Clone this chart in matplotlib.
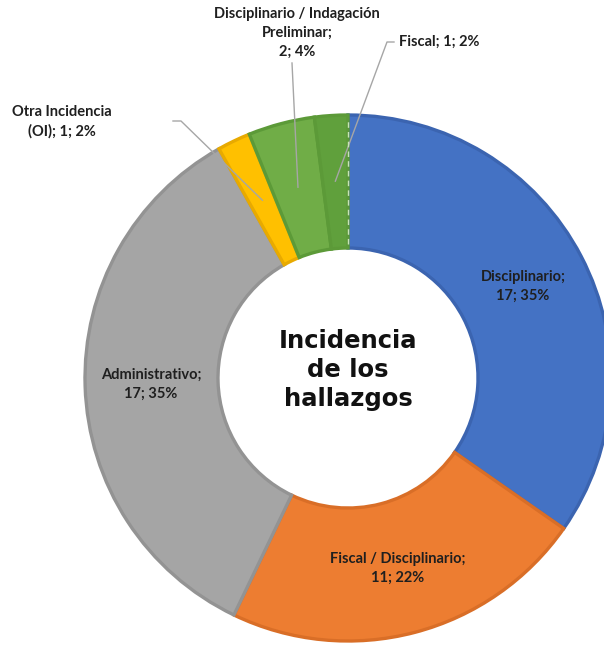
import numpy as np
import matplotlib
matplotlib.use("Agg")
import matplotlib.pyplot as plt

# --- Datos del gráfico ---
categorias = ["Disciplinario", "Fiscal / Disciplinario", "Administrativo",
              "Otra Incidencia\n(OI)", "Disciplinario / Indagación\nPreliminar", "Fiscal"]
cantidades = [17, 11, 17, 1, 2, 1]
porcentajes = [35, 22, 35, 2, 4, 2]

colores = ["#4472C4", "#ED7D31", "#A5A5A5", "#FFC000", "#70AD47", "#60A03C"]
bordes = ["#3B64B0", "#D96E27", "#939393", "#E8AA00", "#5C9A38", "#5C9A38"]

TITULO = "Incidencia\nde los\nhallazgos"

# --- Layout (px, eje y hacia arriba) ---
W, H = 604, 646
CENTRO = (348, 268)
RADIO = 263
ANCHO = 133
FUENTE = ["Lato", "DejaVu Sans"]

fig = plt.figure(figsize=(W / 100, H / 100), dpi=100)
ax = fig.add_axes([0, 0, 1, 1])

wedges, _ = ax.pie(cantidades, colors=colores, startangle=90, counterclock=False,
                   center=CENTRO, radius=RADIO, frame=True,
                   wedgeprops=dict(width=ANCHO, linewidth=2.4))
for w, b in zip(wedges, bordes):
    w.set_edgecolor(b)

ax.set_xlim(0, W)
ax.set_ylim(0, H)
ax.set_aspect("equal")
ax.axis("off")


def punto(w, frac):
    ang = np.deg2rad((w.theta1 + w.theta2) / 2)
    return (CENTRO[0] + frac * RADIO * np.cos(ang),
            CENTRO[1] + frac * RADIO * np.sin(ang))


estilo = dict(fontsize=10.5, fontweight="bold", family=FUENTE, color="#1f1f1f",
              linespacing=1.45)

# Etiquetas dentro de los sectores grandes
for i in range(3):
    x, y = punto(wedges[i], 0.75)
    ax.text(x, y, f"{categorias[i]};\n{cantidades[i]}; {porcentajes[i]}%",
            ha="center", va="center", **estilo)

# Etiquetas externas con líneas guía
gris = "#A6A6A6"

# Otra Incidencia
ax_, ay_ = punto(wedges[3], 0.75)
ax.plot([173, 181, ax_], [525, 525, ay_], color=gris, lw=1)
ax.text(62, 524, f"{categorias[3]}; {cantidades[3]}; {porcentajes[3]}%",
        ha="center", va="center", **estilo)

# Disciplinario / Indagación Preliminar
ax_, ay_ = punto(wedges[4], 0.75)
ax.plot([292, ax_], [583, ay_], color=gris, lw=1)
ax.text(297, 613, f"{categorias[4]};\n{cantidades[4]}; {porcentajes[4]}%",
        ha="center", va="center", **estilo)

# Fiscal
ax_, ay_ = punto(wedges[5], 0.75)
ax.plot([394, 387, ax_], [604, 604, ay_], color=gris, lw=1)
ax.text(399, 604, f"{categorias[5]}; {cantidades[5]}; {porcentajes[5]}%",
        ha="left", va="center", **estilo)

# Línea punteada entre los dos sectores verdes
ang = np.deg2rad(wedges[5].theta1)
rr = np.array([RADIO - ANCHO + 4, RADIO - 3])
ax.plot(CENTRO[0] + rr * np.cos(ang), CENTRO[1] + rr * np.sin(ang),
        color="#C9E3B8", lw=1, ls=(0, (4, 3)))

# Título central (un poco por encima del centro, como en el original)
ax.text(CENTRO[0], CENTRO[1] + 8, TITULO, ha="center", va="center", fontsize=17.5,
        fontweight="bold", family="DejaVu Sans", color="#111111", linespacing=1.25)

fig.savefig("out.png", dpi=100)
